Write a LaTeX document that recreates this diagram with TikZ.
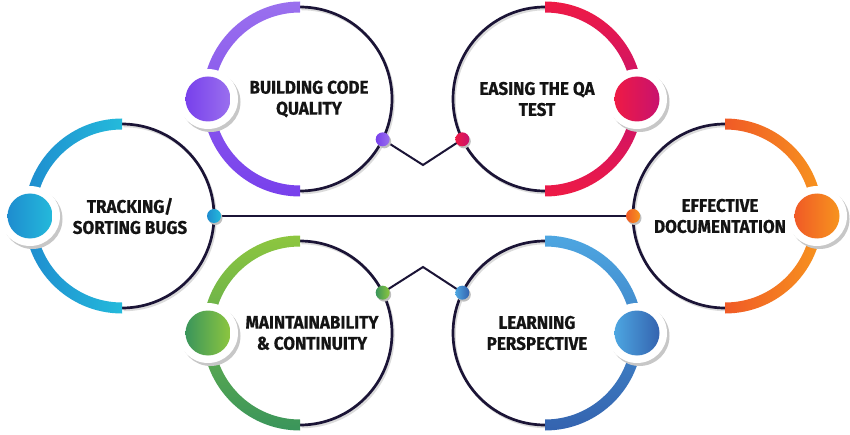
\documentclass[tikz,border=0pt]{standalone}
\usepackage{fontspec}
\usepackage{tikz}
\usetikzlibrary{shadows,backgrounds}
\newfontfamily\bubblefont{Fira Sans}[FakeStretch=0.93, FakeBold=0.6]

\definecolor{ringdark}{HTML}{1B1436}
\definecolor{bclight}{HTML}{9A70EE}
\definecolor{bcdark}{HTML}{7840EC}
\definecolor{qared}{HTML}{EE1A45}
\definecolor{qamag}{HTML}{C8126E}
\definecolor{trblue}{HTML}{1E8CCF}
\definecolor{trcyan}{HTML}{24BADB}
\definecolor{edred}{HTML}{F05A26}
\definecolor{edorange}{HTML}{F7941E}
\definecolor{mcdark}{HTML}{3A955B}
\definecolor{mclight}{HTML}{8DC63F}
\definecolor{lpdark}{HTML}{3463AF}
\definecolor{lplight}{HTML}{4DA6E1}

\begin{document}
\begin{tikzpicture}[
    x=1pt, y=1pt,
    bubbletext/.style={align=center, text=black!92, font=\bubblefont\bfseries\fontsize{18.3}{21}\selectfont},
    darkring/.style={line width=2.7pt, ringdark},
    ringshadow/.style={line width=2.5pt, black!14},
    halo/.style={circle, minimum size=60pt, inner sep=0pt, fill=white,
        drop shadow={shadow xshift=2.5pt, shadow yshift=-3pt, fill=black!22, opacity=1}},
    bigdot/.style={circle, minimum size=45pt, inner sep=0pt},
    smalldot/.style={circle, minimum size=14pt, inner sep=0pt,
        drop shadow={shadow xshift=1.5pt, shadow yshift=-2pt, fill=black!25, opacity=1}},
    link/.style={line width=2pt, ringdark}
]
    \useasboundingbox (0,0) rectangle (850,434);

    % --- centres of the six rings ---
    \coordinate (bc) at (300,335);
    \coordinate (qa) at (545,335);
    \coordinate (tr) at (122,218);
    \coordinate (ed) at (725,218);
    \coordinate (mc) at (300,101);
    \coordinate (lp) at (545,101);

    % --- BUILDING CODE QUALITY (open to the left) ---
    \draw[ringshadow] ([shift={(90:92)}, xshift=1.5, yshift=-2]bc) arc[start angle=90, end angle=-90, radius=92];
    \draw[darkring] ([shift={(90:92)}]bc) arc[start angle=90, end angle=-90, radius=92];
    \shade[top color=bclight, bottom color=bcdark] ([shift={(90:97.5)}]bc) arc[start angle=90, end angle=270, radius=97.5]
        -- ++(0,11) arc[start angle=270, end angle=90, radius=86.5] -- cycle;

    % --- EASING THE QA TEST (open to the right) ---
    \draw[ringshadow] ([shift={(90:92)}, xshift=1.5, yshift=-2]qa) arc[start angle=90, end angle=270, radius=92];
    \draw[darkring] ([shift={(90:92)}]qa) arc[start angle=90, end angle=270, radius=92];
    \shade[top color=qared, bottom color=qared, middle color=qamag] ([shift={(90:97.5)}]qa) arc[start angle=90, end angle=-90, radius=97.5]
        -- ++(0,11) arc[start angle=-90, end angle=90, radius=86.5] -- cycle;

    % --- TRACKING / SORTING BUGS ---
    \draw[ringshadow] ([shift={(90:92)}, xshift=1.5, yshift=-2]tr) arc[start angle=90, end angle=-90, radius=92];
    \draw[darkring] ([shift={(90:92)}]tr) arc[start angle=90, end angle=-90, radius=92];
    \shade[left color=trblue, right color=trcyan] ([shift={(90:97.5)}]tr) arc[start angle=90, end angle=270, radius=97.5]
        -- ++(0,11) arc[start angle=270, end angle=90, radius=86.5] -- cycle;

    % --- EFFECTIVE DOCUMENTATION ---
    \draw[ringshadow] ([shift={(90:92)}, xshift=1.5, yshift=-2]ed) arc[start angle=90, end angle=270, radius=92];
    \draw[darkring] ([shift={(90:92)}]ed) arc[start angle=90, end angle=270, radius=92];
    \shade[left color=edred, right color=edorange] ([shift={(90:97.5)}]ed) arc[start angle=90, end angle=-90, radius=97.5]
        -- ++(0,11) arc[start angle=-90, end angle=90, radius=86.5] -- cycle;

    % --- MAINTAINABILITY & CONTINUITY ---
    \draw[ringshadow] ([shift={(90:92)}, xshift=1.5, yshift=-2]mc) arc[start angle=90, end angle=-90, radius=92];
    \draw[darkring] ([shift={(90:92)}]mc) arc[start angle=90, end angle=-90, radius=92];
    \shade[top color=mclight, bottom color=mcdark] ([shift={(90:97.5)}]mc) arc[start angle=90, end angle=270, radius=97.5]
        -- ++(0,11) arc[start angle=270, end angle=90, radius=86.5] -- cycle;

    % --- LEARNING PERSPECTIVE ---
    \draw[ringshadow] ([shift={(90:92)}, xshift=1.5, yshift=-2]lp) arc[start angle=90, end angle=270, radius=92];
    \draw[darkring] ([shift={(90:92)}]lp) arc[start angle=90, end angle=270, radius=92];
    \shade[top color=lplight, bottom color=lpdark] ([shift={(90:97.5)}]lp) arc[start angle=90, end angle=-90, radius=97.5]
        -- ++(0,11) arc[start angle=-90, end angle=90, radius=86.5] -- cycle;

    % --- big dots with white halo ---
    \node[halo] (bch) at ([shift={(180:92)}]bc) {};
    \node[bigdot, left color=bcdark, right color=bclight] (bcd) at (bch) {};
    \node[halo] (qah) at ([shift={(0:92)}]qa) {};
    \node[bigdot, left color=qared, right color=qamag] (qad) at (qah) {};
    \node[halo] (trh) at ([shift={(180:92)}]tr) {};
    \node[bigdot, left color=trblue, right color=trcyan] (trd) at (trh) {};
    \node[halo] (edh) at ([shift={(0:92)}]ed) {};
    \node[bigdot, left color=edred, right color=edorange] (edd) at (edh) {};
    \node[halo] (mch) at ([shift={(180:92)}]mc) {};
    \node[bigdot, left color=mcdark, right color=mclight] (mcd) at (mch) {};
    \node[halo] (lph) at ([shift={(0:92)}]lp) {};
    \node[bigdot, left color=lplight, right color=lpdark] (lpd) at (lph) {};

    % --- small dots on the rings ---
    \node[smalldot, left color=bcdark, right color=bclight] (bcs) at ([shift={(-26:92)}]bc) {};
    \node[smalldot, left color=qared, right color=qamag] (qas) at ([shift={(206:92)}]qa) {};
    \node[smalldot, left color=trblue, right color=trcyan] (trs) at ([shift={(0:92)}]tr) {};
    \node[smalldot, left color=edred, right color=edorange] (eds) at ([shift={(180:92)}]ed) {};
    \node[smalldot, left color=mcdark, right color=mclight] (mcs) at ([shift={(26:92)}]mc) {};
    \node[smalldot, left color=lplight, right color=lpdark] (lps) at ([shift={(154:92)}]lp) {};

    % --- links between the rings ---
    \coordinate (topv) at (423,269);
    \coordinate (botv) at (423,167);
    \begin{scope}[on background layer]
        \draw[link] (bcs.center) -- (topv) -- (qas.center);
        \draw[link] (mcs.center) -- (botv) -- (lps.center);
        \draw[link] (trs.center) -- (eds.center);
    \end{scope}

    % --- labels ---
    \node[bubbletext] (bct) at ([xshift=9]bc) {BUILDING CODE\\QUALITY};
    \node[bubbletext] (qat) at ([xshift=-8]qa) {EASING THE QA\\TEST};
    \node[bubbletext] (trt) at ([xshift=8]tr) {TRACKING/\\SORTING BUGS};
    \node[bubbletext] (edt) at ([xshift=-5]ed) {EFFECTIVE\\DOCUMENTATION};
    \node[bubbletext] (mct) at ([xshift=12]mc) {MAINTAINABILITY\\\& CONTINUITY};
    \node[bubbletext] (lpt) at ([xshift=-8]lp) {LEARNING\\PERSPECTIVE};
\end{tikzpicture}
\end{document}
